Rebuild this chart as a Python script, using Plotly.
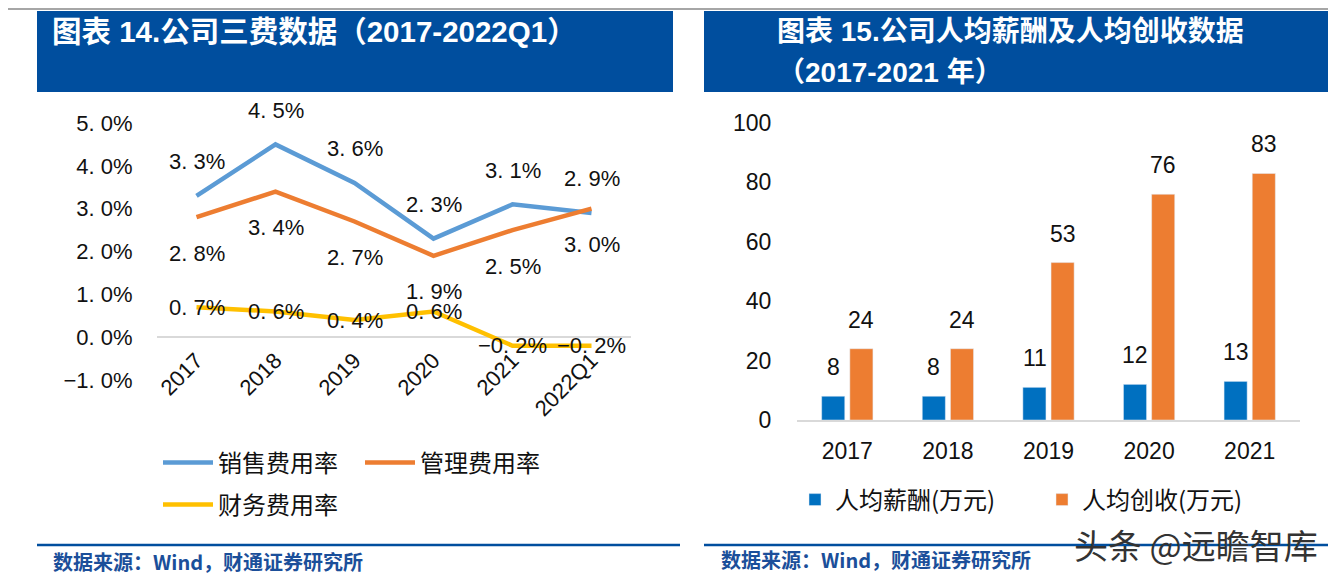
import plotly.graph_objects as go

# ---------------- data ----------------
periods = ["2017", "2018", "2019", "2020", "2021", "2022Q1"]
sales_rate = [3.3, 4.5, 3.6, 2.3, 3.1, 2.9]
admin_rate = [2.8, 3.4, 2.7, 1.9, 2.5, 3.0]
fin_rate = [0.7, 0.6, 0.4, 0.6, -0.2, -0.2]
pct_tickvals = [-1, 0, 1, 2, 3, 4, 5]
pct_ticktext = ["−1. 0%", "0. 0%", "1. 0%", "2. 0%", "3. 0%", "4. 0%", "5. 0%"]

years = ["2017", "2018", "2019", "2020", "2021"]
salary = [8, 8, 11, 12, 13]
revenue = [24, 24, 53, 76, 83]
bar_tickvals = [0, 20, 40, 60, 80, 100]

W, H = 1336, 580
OFF = 8  # page body margin offset

def px(x):
    return (x - OFF) / W

def py(y):
    return 1 - (y - OFF) / H

BLUE_L = "#5B9BD5"
ORANGE = "#ED7D31"
YELLOW = "#FFC000"
BAR_BLUE = "#0070C0"
BANNER = "#004E9E"
FOOT = "#1B4F9A"
NUM_FONT = "Liberation Sans, Arial, sans-serif"
CJK = "Noto Sans CJK SC"


def fmt(v):
    s = f"{abs(v):.1f}".replace(".", ". ") + "%"
    return ("−" + s) if v < 0 else s


fig = go.Figure()

fig.add_trace(go.Scatter(x=periods, y=sales_rate, mode="lines", name="销售费用率",
                         line=dict(color=BLUE_L, width=4.5), xaxis="x", yaxis="y", legend="legend"))
fig.add_trace(go.Scatter(x=periods, y=admin_rate, mode="lines", name="管理费用率",
                         line=dict(color=ORANGE, width=4.5), xaxis="x", yaxis="y", legend="legend"))
fig.add_trace(go.Scatter(x=periods, y=fin_rate, mode="lines", name="财务费用率",
                         line=dict(color=YELLOW, width=4.5), xaxis="x", yaxis="y", legend="legend2"))

fig.add_trace(go.Bar(x=years, y=salary, name="人均薪酬(万元)", marker_color=BAR_BLUE,
                     xaxis="x2", yaxis="y2", legend="legend3"))
fig.add_trace(go.Bar(x=years, y=revenue, name="人均创收(万元)", marker_color=ORANGE,
                     xaxis="x2", yaxis="y2", legend="legend3"))

annotations = []
lab_font = dict(family=NUM_FONT, size=22, color="#111")
for i, v in enumerate(sales_rate):
    annotations.append(dict(x=i, y=v, xref="x", yref="y", text=fmt(v), showarrow=False,
                            yshift=34, font=lab_font))
for i, v in enumerate(admin_rate):
    annotations.append(dict(x=i, y=v, xref="x", yref="y", text=fmt(v), showarrow=False,
                            yshift=-36, font=lab_font))
for i, v in enumerate(fin_rate):
    annotations.append(dict(x=i, y=v, xref="x", yref="y", text=fmt(v), showarrow=False,
                            yshift=0, font=lab_font))
bar_font = dict(family=NUM_FONT, size=23, color="#111")
for i, (a, b) in enumerate(zip(salary, revenue)):
    annotations.append(dict(x=i, y=a, xref="x2", yref="y2", text=str(a), showarrow=False,
                            xshift=-14, yshift=29, font=bar_font))
    annotations.append(dict(x=i, y=b, xref="x2", yref="y2", text=str(b), showarrow=False,
                            xshift=14, yshift=29, font=bar_font))

# titles / footers
title_font = dict(family="Liberation Sans, " + CJK, size=28, color="white", weight="bold")
title_font_l = dict(family="Liberation Sans, " + CJK, size=29.5, color="white", weight="bold")
annotations.append(dict(x=px(50), y=py(31), xref="paper", yref="paper", xanchor="left", yanchor="middle",
                        text="图表 14.公司三费数据（2017-2022Q1）", showarrow=False, font=title_font_l))
annotations.append(dict(x=px(775), y=py(31), xref="paper", yref="paper", xanchor="left", yanchor="middle",
                        text="图表 15.公司人均薪酬及人均创收数据", showarrow=False, font=title_font))
annotations.append(dict(x=px(775), y=py(72), xref="paper", yref="paper", xanchor="left", yanchor="middle",
                        text="（2017-2021 年）", showarrow=False, font=title_font))
foot_font = dict(family=CJK, size=20, color=FOOT, weight="bold")
annotations.append(dict(x=px(51), y=py(561), xref="paper", yref="paper", xanchor="left", yanchor="middle",
                        text="数据来源：Wind，财通证券研究所", showarrow=False, font=foot_font))
annotations.append(dict(x=px(719), y=py(559), xref="paper", yref="paper", xanchor="left", yanchor="middle",
                        text="数据来源：Wind，财通证券研究所", showarrow=False, font=foot_font))
annotations.append(dict(x=px(1320), y=py(544), xref="paper", yref="paper", xanchor="right", yanchor="middle",
                        text="头条 @远瞻智库", showarrow=False,
                        font=dict(family=CJK, size=34, color="#333333")))

shapes = [
    dict(type="line", xref="paper", yref="paper", x0=0, x1=px(1336), y0=py(9), y1=py(9),
         line=dict(color="#A6A6A6", width=2)),
    dict(type="rect", xref="paper", yref="paper", x0=px(37), x1=px(673), y0=py(92), y1=py(11),
         fillcolor=BANNER, line=dict(width=0), layer="below"),
    dict(type="rect", xref="paper", yref="paper", x0=px(704), x1=px(1344), y0=py(92), y1=py(11),
         fillcolor=BANNER, line=dict(width=0), layer="below"),
    dict(type="line", xref="paper", yref="paper", x0=px(37), x1=px(680), y0=py(545), y1=py(545),
         line=dict(color=BANNER, width=2.5)),
    dict(type="line", xref="paper", yref="paper", x0=px(704), x1=px(1344), y0=py(545), y1=py(545),
         line=dict(color=BANNER, width=2.5)),
]

tick_font = dict(family=NUM_FONT, size=22, color="#111")
leg_font = dict(family=CJK, size=24, color="#111")

fig.update_layout(
    width=W, height=H, margin=dict(l=0, r=0, t=0, b=0, autoexpand=False),
    paper_bgcolor="white", plot_bgcolor="white",
    barmode="group", bargap=0.44, bargroupgap=0.18,
    xaxis=dict(domain=[px(157), px(631)], type="category", range=[-0.5, 5.5],
               anchor="free", position=py(336), showline=False, showgrid=False, zeroline=False,
               tickangle=-45, tickfont=tick_font, ticks="outside", ticklen=2,
               tickcolor="rgba(0,0,0,0)"),
    yaxis=dict(domain=[py(380), py(123)], range=[-1, 5], anchor="free", position=px(157),
               tickvals=pct_tickvals, ticktext=pct_ticktext, showgrid=False,
               zeroline=True, zerolinecolor="#D9D9D9", zerolinewidth=2, showline=False,
               ticks="outside", ticklen=20, tickcolor="rgba(0,0,0,0)", tickfont=tick_font),
    xaxis2=dict(domain=[px(797), px(1300)], anchor="y2", type="category", range=[-0.5, 4.5],
                showline=True, linecolor="#D9D9D9", linewidth=2, showgrid=False,
                ticks="outside", ticklen=9, tickcolor="rgba(0,0,0,0)",
                tickfont=dict(family=NUM_FONT, size=23, color="#111")),
    yaxis2=dict(domain=[py(420), py(123)], range=[0, 100], anchor="x2",
                tickvals=bar_tickvals, showgrid=False, zeroline=False, showline=False,
                ticks="outside", ticklen=20, tickcolor="rgba(0,0,0,0)",
                tickfont=dict(family=NUM_FONT, size=23, color="#111")),
    legend=dict(orientation="h", x=px(158), y=py(463), xanchor="left", yanchor="middle",
                font=leg_font, itemwidth=50, bgcolor="rgba(0,0,0,0)", entrywidth=137,
                entrywidthmode="pixels"),
    legend2=dict(orientation="h", x=px(158), y=py(505), xanchor="left", yanchor="middle",
                 font=leg_font, itemwidth=50, bgcolor="rgba(0,0,0,0)"),
    legend3=dict(orientation="h", x=px(795), y=py(500), xanchor="left", yanchor="middle",
                 font=leg_font, itemwidth=30, bgcolor="rgba(0,0,0,0)", entrywidth=202,
                 entrywidthmode="pixels"),
    annotations=annotations, shapes=shapes,
    showlegend=True,
)

fig.write_html("out.html")
